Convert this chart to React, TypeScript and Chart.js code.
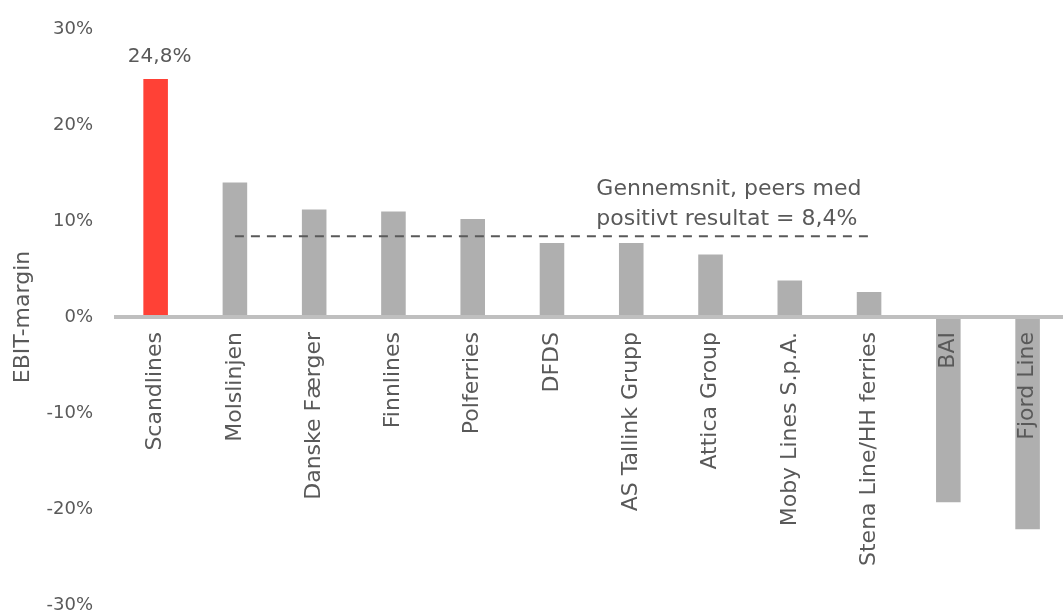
import React, { useEffect, useRef } from "react";
import { Chart, registerables } from "chart.js";

Chart.register(...registerables);

const categories = [
  "Scandlines",
  "Molslinjen",
  "Danske Færger",
  "Finnlines",
  "Polferries",
  "DFDS",
  "AS Tallink Grupp",
  "Attica Group",
  "Moby Lines S.p.A.",
  "Stena Line/HH ferries",
  "BAI",
  "Fjord Line",
];
const ebitMargin = [24.8, 14.0, 11.2, 11.0, 10.2, 7.7, 7.7, 6.5, 3.8, 2.6, -19.3, -22.1];
const peerAverage = 8.4;
const averageFromIndex = 1;
const averageToIndex = 9;
const highlightIndex = 0;
const highlightLabel = "24,8%";
const annotationLines = ["Gennemsnit, peers med", "positivt resultat = 8,4%"];
const annotationAtIndex = 5.56;
const yMin = -30;
const yMax = 30;
const yStep = 10;
const yTitle = "EBIT-margin";

const FONT = "'DejaVu Sans', Verdana, sans-serif";
const TEXT = "#595959";
const BAR_GREY = "#AFAFAF";
const BAR_RED = "#FF4136";
const AXIS_GREY = "#BFBFBF";

const averageLine = categories.map((_, i) =>
  i >= averageFromIndex && i <= averageToIndex ? peerAverage : null
);

const labelsPlugin = {
  id: "textOverlays",
  afterDatasetsDraw(chart: any) {
    const { ctx, scales } = chart;
    const x = scales.x;
    const y = scales.y;
    ctx.save();
    ctx.fillStyle = TEXT;
    ctx.font = `20px ${FONT}`;
    ctx.textAlign = "center";
    ctx.textBaseline = "middle";
    ctx.fillText(
      highlightLabel,
      x.getPixelForValue(highlightIndex) + 4,
      y.getPixelForValue(ebitMargin[highlightIndex]) - 22
    );
    ctx.font = `22px ${FONT}`;
    ctx.textAlign = "left";
    const ax = x.getPixelForValue(annotationAtIndex);
    const ay = y.getPixelForValue(peerAverage);
    ctx.fillText(annotationLines[0], ax, ay - 47);
    ctx.fillText(annotationLines[1], ax, ay - 17);
    ctx.restore();
  },
};

export default function App() {
  const canvasRef = useRef<HTMLCanvasElement | null>(null);

  useEffect(() => {
    if (!canvasRef.current) return;
    const chart = new Chart(canvasRef.current, {
      type: "bar",
      data: {
        labels: categories,
        datasets: [
          {
            type: "line",
            data: averageLine,
            borderColor: TEXT,
            borderWidth: 2,
            borderDash: [9, 7],
            pointRadius: 0,
            fill: false,
            spanGaps: false,
            order: 0,
          } as any,
          {
            type: "bar",
            data: ebitMargin,
            backgroundColor: ebitMargin.map((_, i) => (i === highlightIndex ? BAR_RED : BAR_GREY)),
            barPercentage: 0.31,
            categoryPercentage: 1,
            order: 1,
          },
        ],
      },
      options: {
        animation: false,
        responsive: true,
        maintainAspectRatio: false,
        layout: { padding: { top: 29, bottom: 9, left: 0, right: 0 } },
        plugins: {
          legend: { display: false },
          tooltip: { enabled: false },
        },
        scales: {
          x: {
            position: { y: 0 } as any,
            grid: { display: false, drawTicks: false },
            border: { display: true, color: AXIS_GREY, width: 4, z: 1 },
            ticks: {
              z: 1,
              autoSkip: false,
              minRotation: 90,
              maxRotation: 90,
              padding: 15,
              color: TEXT,
              font: { family: FONT, size: 22 },
            },
          },
          y: {
            min: yMin,
            max: yMax,
            grid: { display: false, drawTicks: false },
            border: { display: false },
            ticks: {
              stepSize: yStep,
              padding: 23,
              color: TEXT,
              font: { family: FONT, size: 18 },
              callback: (v: any) => `${v}%`,
            },
            title: {
              display: true,
              text: yTitle,
              color: TEXT,
              font: { family: FONT, size: 22 },
              padding: { top: 10, bottom: 0 },
            },
            afterFit: (scale: any) => {
              scale.width = 116;
              scale.paddingTop = 0;
              scale.paddingBottom = 0;
            },
          },
        },
      },
      plugins: [labelsPlugin],
    });
    return () => chart.destroy();
  }, []);

  return (
    <div
      style={{
        position: "fixed",
        left: 0,
        top: 0,
        width: 1063,
        height: 614,
        overflow: "hidden",
        background: "#fff",
      }}
    >
      <div style={{ position: "relative", width: 1069, height: 614 }}>
        <canvas ref={canvasRef} />
      </div>
    </div>
  );
}
